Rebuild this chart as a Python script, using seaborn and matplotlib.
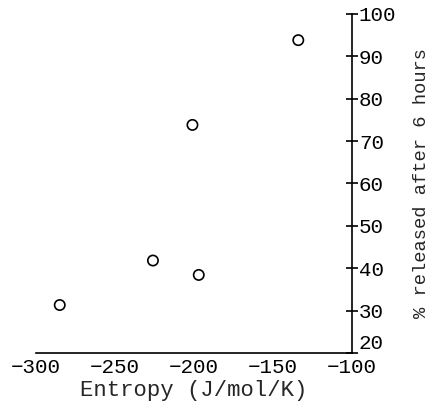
import matplotlib
matplotlib.use('Agg')
import matplotlib.pyplot as plt
import seaborn as sns
import pandas as pd

entropy = [-285, -226, -197, -201, -134]
released = [31.3, 41.8, 38.4, 73.8, 93.8]
x_ticks = [-300, -250, -200, -150, -100]
y_ticks = [20, 30, 40, 50, 60, 70, 80, 90, 100]

sns.set_style('white')
plt.rcParams['font.family'] = ['Liberation Mono', 'DejaVu Sans Mono']

df = pd.DataFrame({'Entropy': entropy, 'Released': released})

fig = plt.figure(figsize=(4.45, 4.08), dpi=100)
ax = fig.add_axes([0.081, 0.135, 0.71, 0.831])
sns.scatterplot(data=df, x='Entropy', y='Released', ax=ax, marker='o',
                s=55, facecolor='none', edgecolor='black', linewidth=1.2)

ax.set_xlim(-300, -100)
ax.set_ylim(20, 100)
ax.set_xticks(x_ticks)
ax.set_yticks(y_ticks)
ax.set_xticklabels([str(v).replace('-', '\u2212') for v in x_ticks])

for side in ['top', 'left']:
    ax.spines[side].set_visible(False)
for side in ['bottom', 'right']:
    ax.spines[side].set_color('black')
    ax.spines[side].set_linewidth(1.2)

ax.yaxis.tick_right()
ax.yaxis.set_label_position('right')
ax.tick_params(axis='both', direction='inout', length=8, width=1.2,
               colors='black', labelsize=15, pad=1)
ax.tick_params(axis='x', pad=0)

# bottom "20" sits just above the x axis, as in the original
ax.get_yticklabels()[0].set_va('bottom')

ax.set_xlabel('Entropy (J/mol/K)', fontsize=16, labelpad=2)
ax.set_ylabel('% released after 6 hours', fontsize=13.5, labelpad=12)

plt.savefig('out.png', dpi=100)
plt.close()
